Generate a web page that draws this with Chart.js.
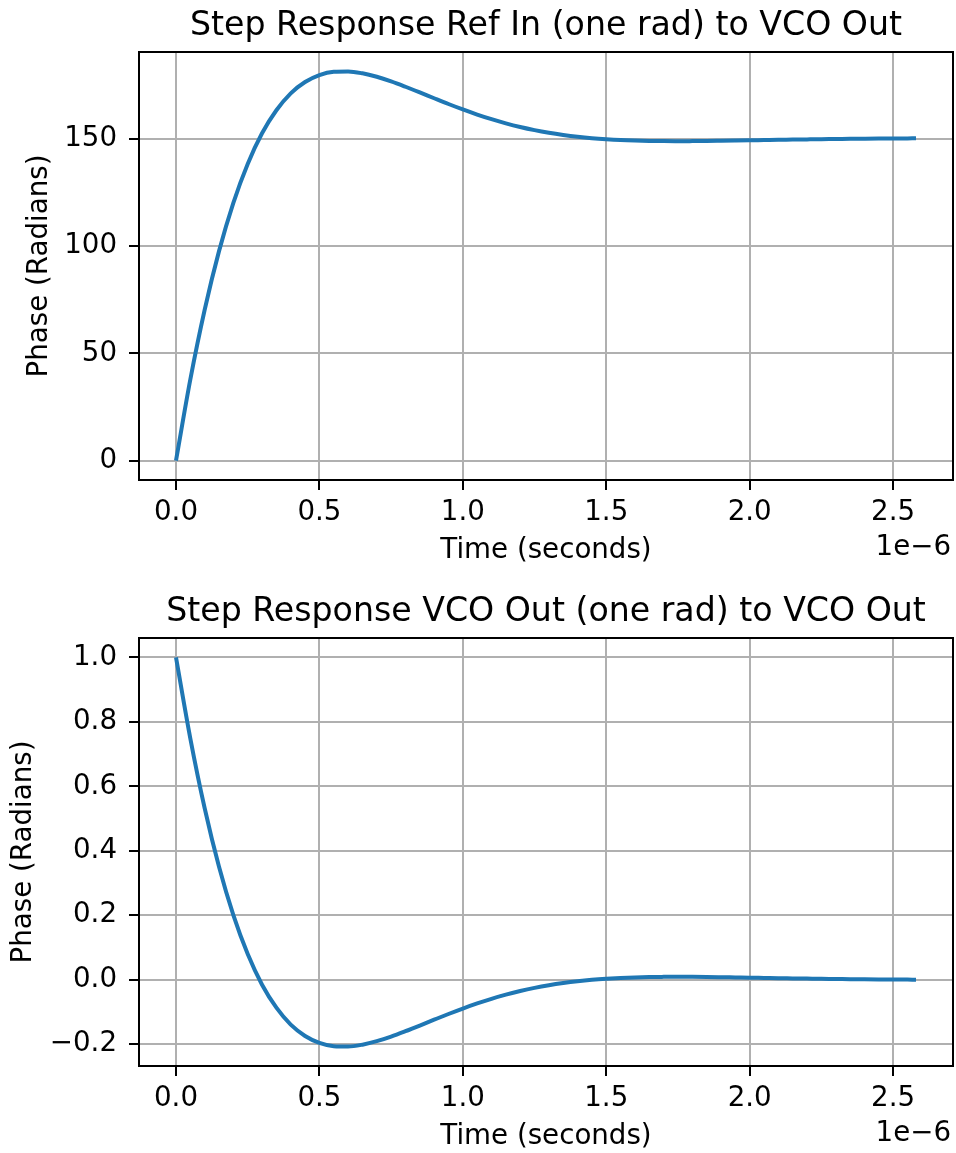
<!DOCTYPE html>
<html>
<head>
<meta charset="utf-8">
<script src="https://cdn.jsdelivr.net/npm/chart.js@4.4.0/dist/chart.umd.min.js"></script>
<style>
  html, body { margin: 0; padding: 0; background: #fff; overflow: hidden; }
  .panel { position: absolute; left: 0; width: 956px; height: 575px; }
  #top { top: 0; }
  #bottom { top: 586px; }
</style>
</head>
<body>
<div class="panel" id="top"><canvas id="refChart" width="956" height="575"></canvas></div>
<div class="panel" id="bottom"><canvas id="vcoChart" width="956" height="575"></canvas></div>
<script>
// time in microseconds, the axis prints the 1e-6 multiplier on its own
const timeUs = [0, 0.05, 0.10, 0.15, 0.20, 0.25, 0.30, 0.35, 0.40, 0.45,
  0.50, 0.55, 0.60, 0.65, 0.70, 0.75, 0.80, 0.85, 0.90, 0.95,
  1.00, 1.05, 1.10, 1.15, 1.20, 1.25, 1.30, 1.35, 1.40, 1.45,
  1.50, 1.55, 1.60, 1.65, 1.70, 1.75, 1.80, 1.85, 1.90, 1.95,
  2.00, 2.05, 2.10, 2.15, 2.20, 2.25, 2.30, 2.35, 2.40, 2.45,
  2.50, 2.55, 2.58];

// phase at VCO out for a one rad step at ref in
const refInPhase = [0, 37.87, 70.37, 97.73, 120.29, 138.44, 152.73, 163.47, 171.38, 176.66,
  179.89, 181.43, 181.59, 180.72, 179.10, 176.95, 174.45, 171.80, 169.08, 166.40,
  163.86, 161.48, 159.32, 157.39, 155.68, 154.21, 152.97, 151.95, 151.11, 150.45,
  149.95, 149.57, 149.32, 149.15, 149.08, 149.05, 149.08, 149.14, 149.23, 149.33,
  149.44, 149.56, 149.68, 149.78, 149.89, 149.99, 150.07, 150.16, 150.22, 150.28,
  150.32, 150.35, 150.38];

// phase at VCO out for a one rad step at VCO out
const vcoOutPhase = [1, 0.7482, 0.5321, 0.3502, 0.2002, 0.0795, -0.0155, -0.0869, -0.1395, -0.1746,
  -0.1961, -0.2063, -0.2074, -0.2016, -0.1908, -0.1765, -0.1599, -0.1423, -0.1242, -0.1064,
  -0.0895, -0.0737, -0.0593, -0.0465, -0.0351, -0.0253, -0.0171, -0.0103, -0.0047, -0.0003,
  0.0030, 0.0055, 0.0072, 0.0083, 0.0088, 0.0090, 0.0088, 0.0084, 0.0078, 0.0071,
  0.0064, 0.0056, 0.0048, 0.0041, 0.0034, 0.0027, 0.0022, 0.0016, 0.0012, 0.0008,
  0.0005, 0.0003, 0.0001];

const xTicks = [0, 0.5, 1.0, 1.5, 2.0, 2.5];
const refTicks = [0, 50, 100, 150];
const vcoTicks = [-0.2, 0, 0.2, 0.4, 0.6, 0.8, 1.0];

const labelSize = 27.7;
const titleSize = 33.2;

Chart.defaults.font.family = "'DejaVu Sans', sans-serif";
Chart.defaults.color = "#000";

// box round the plot area plus the "1e-6" offset text under the x axis
const frame = {
  id: "frame",
  afterDraw(chart) {
    const a = chart.chartArea;
    const ctx = chart.ctx;
    ctx.save();
    ctx.strokeStyle = "#000";
    ctx.lineWidth = 2;
    ctx.strokeRect(a.left, a.top, a.right - a.left, a.bottom - a.top);
    ctx.font = labelSize + "px 'DejaVu Sans'";
    ctx.fillStyle = "#000";
    ctx.textAlign = "right";
    ctx.textBaseline = "middle";
    ctx.fillText("1e\u22126", a.right - 2, a.bottom + 68);
    ctx.restore();
  }
};

function minus(s) {
  return s.replace("-", "\u2212");
}

function makeChart(id, title, values, yTicks, yMin, yMax, yTitlePad, yFmt) {
  return new Chart(document.getElementById(id), {
    type: "line",
    data: {
      datasets: [{
        data: timeUs.map((t, i) => ({ x: t, y: values[i] })),
        borderColor: "#1f77b4",
        borderWidth: 4,
        pointRadius: 0,
        cubicInterpolationMode: "monotone",
        fill: false
      }]
    },
    options: {
      responsive: false,
      animation: false,
      layout: { padding: { left: 0, right: 3, top: 0, bottom: 0 } },
      plugins: {
        legend: { display: false },
        tooltip: { enabled: false },
        title: {
          display: true,
          fullSize: false,
          text: title,
          font: { size: titleSize, weight: "normal" },
          color: "#000",
          padding: { top: 6.1, bottom: 6.06 }
        }
      },
      scales: {
        x: {
          type: "linear",
          min: -0.129,
          max: 2.709,
          afterBuildTicks: s => { s.ticks = xTicks.map(v => ({ value: v })); },
          afterFit: s => { s.height = 95; },
          ticks: {
            font: { size: labelSize },
            padding: 6,
            maxRotation: 0,
            callback: v => minus(v.toFixed(1))
          },
          grid: { color: "#b0b0b0", lineWidth: 2, tickColor: "#000", tickWidth: 2, tickLength: 10 },
          border: { display: true, color: "#000", width: 2 },
          title: {
            display: true,
            text: "Time (seconds)",
            font: { size: labelSize },
            padding: { top: 0, bottom: 7.5 }
          }
        },
        y: {
          type: "linear",
          min: yMin,
          max: yMax,
          afterBuildTicks: s => { s.ticks = yTicks.map(v => ({ value: v })); },
          afterFit: s => { s.width = 139; },
          ticks: {
            font: { size: labelSize },
            padding: 12,
            callback: yFmt
          },
          grid: { color: "#b0b0b0", lineWidth: 2, tickColor: "#000", tickWidth: 2, tickLength: 10 },
          border: { display: true, color: "#000", width: 2 },
          title: {
            display: true,
            text: "Phase (Radians)",
            font: { size: labelSize },
            padding: { top: yTitlePad, bottom: 0 }
          }
        }
      }
    },
    plugins: [frame]
  });
}

makeChart("refChart", "Step Response Ref In (one rad) to VCO Out",
  refInPhase, refTicks, -9.08, 190.67, 23, v => minus(String(Math.round(v))));

makeChart("vcoChart", "Step Response VCO Out (one rad) to VCO Out",
  vcoOutPhase, vcoTicks, -0.2678, 1.0604, 7.5, v => minus(v.toFixed(1)));
</script>
</body>
</html>
